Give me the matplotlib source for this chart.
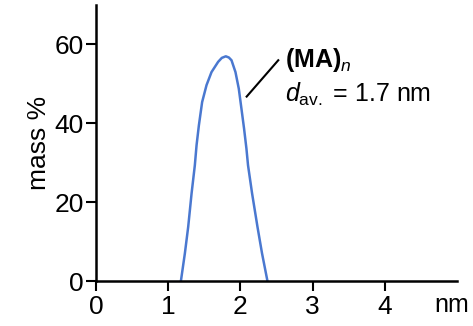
import matplotlib
matplotlib.use("Agg")
import matplotlib.pyplot as plt

plt.rcParams['font.family'] = ['Liberation Sans', 'DejaVu Sans']
plt.rcParams['mathtext.fontset'] = 'custom'
plt.rcParams['mathtext.rm'] = 'Liberation Sans'
plt.rcParams['mathtext.it'] = 'Liberation Sans:italic'
plt.rcParams['mathtext.bf'] = 'Liberation Sans:bold'

# data
size_nm = [1.176, 1.231, 1.277, 1.324, 1.369, 1.393, 1.425, 1.470, 1.531, 1.600,
           1.692, 1.743, 1.798, 1.840, 1.877, 1.932, 1.978, 2.015, 2.051, 2.084,
           2.106, 2.162, 2.237, 2.300, 2.375]
mass_pct = [0, 7.0, 13.7, 22.2, 29.3, 34.4, 39.4, 45.3, 49.6, 52.9,
            55.5, 56.5, 56.9, 56.6, 55.9, 52.9, 48.7, 43.6, 38.6, 33.5,
            29.3, 22.2, 13.7, 7.0, 0]
xticks = [0, 1, 2, 3, 4]
yticks = [0, 20, 40, 60]

fig = plt.figure(figsize=(4.73, 3.26), dpi=100)
ax = fig.add_axes([0.203, 0.138, 0.763, 0.848])

ax.plot(size_nm, mass_pct, color='#4a78d0', lw=1.8, solid_capstyle='round', solid_joinstyle='round')

ax.set_xlim(0, 5)
ax.set_ylim(0, 70)
ax.set_xticks(xticks)
ax.set_yticks(yticks)
for s in ['top', 'right']:
    ax.spines[s].set_visible(False)
for s in ['left', 'bottom']:
    ax.spines[s].set_linewidth(1.8)
ax.tick_params(direction='out', length=7, width=1.5, labelsize=19, color='black')
ax.tick_params(axis='y', pad=2)
ax.tick_params(axis='x', pad=3)
ax.set_ylabel('mass %', fontsize=19, labelpad=2)

ax.text(4.69, -0.045, 'nm', transform=ax.get_xaxis_transform(), fontsize=18,
        ha='left', va='top')

ax.plot([2.087, 2.525], [46.7, 55.9], color='black', lw=1.5)
ax.text(2.614, 54.2, r'$\mathbf{(MA)}_{\mathit{n}}$', fontsize=18, ha='left', va='baseline')
ax.text(2.614, 45.4, r'$\mathit{d}_{\mathrm{av.}}$ = 1.7 nm', fontsize=18, ha='left', va='baseline')

fig.savefig('out.png', dpi=100)
